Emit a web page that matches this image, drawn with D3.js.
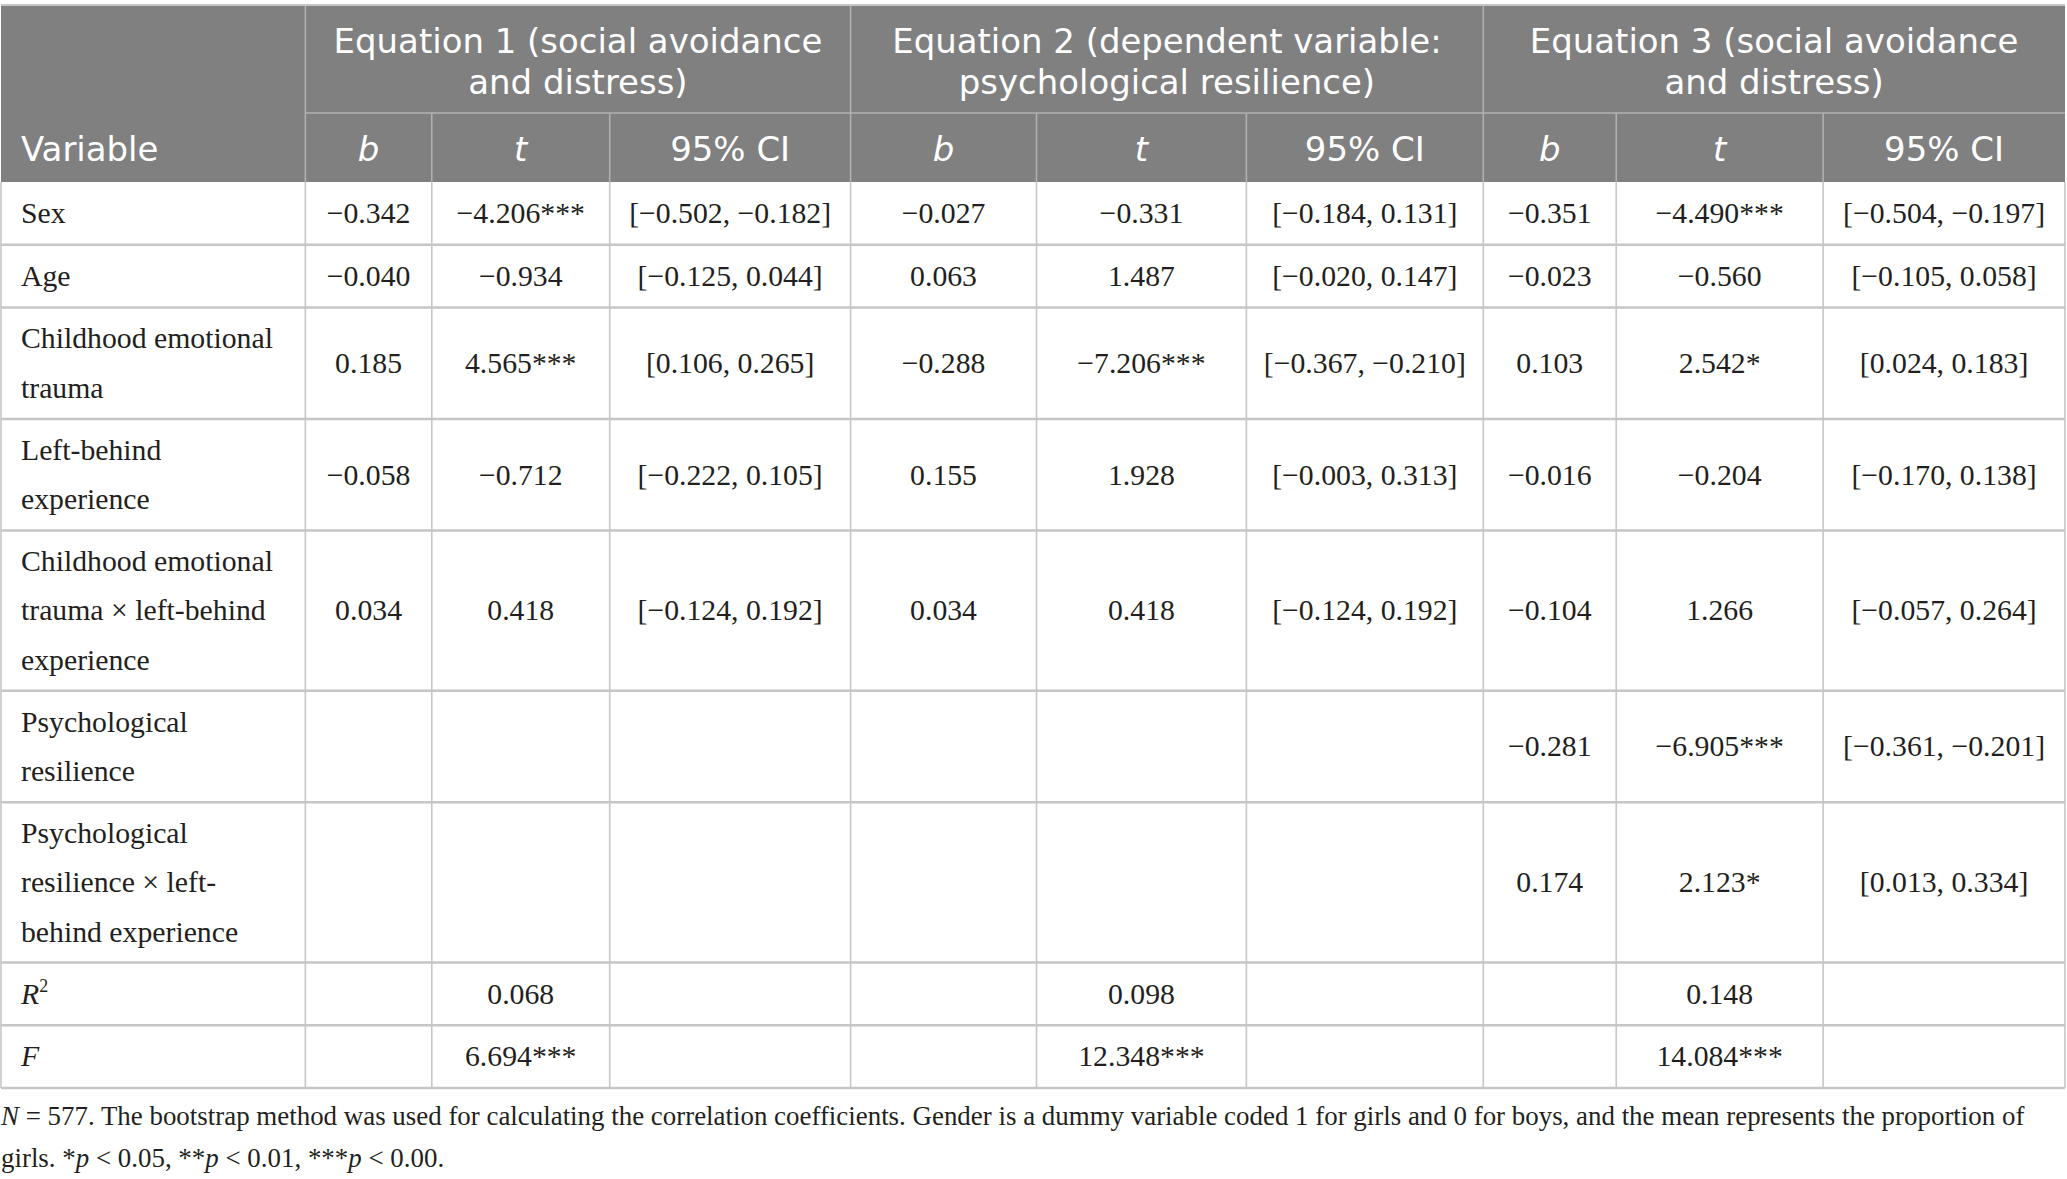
<!DOCTYPE html>
<html><head><meta charset="utf-8">
<script src="https://cdn.jsdelivr.net/npm/d3@7/dist/d3.min.js"></script>
<style>html,body{margin:0;padding:0;background:#fff;overflow:hidden}</style>
</head><body><svg id="c" width="2067" height="1179"></svg>
<script>
// ---------- data ----------
const groupTitles = [
  ["Equation 1 (social avoidance", "and distress)"],
  ["Equation 2 (dependent variable:", "psychological resilience)"],
  ["Equation 3 (social avoidance", "and distress)"]
];
const firstHeader = "Variable";
const subHeaders = ["b", "t", "95% CI"];
const variables = [
  ["Sex"],
  ["Age"],
  ["Childhood emotional", "trauma"],
  ["Left-behind", "experience"],
  ["Childhood emotional", "trauma \u00d7 left-behind", "experience"],
  ["Psychological", "resilience"],
  ["Psychological", "resilience \u00d7 left-", "behind experience"],
  ["R"],
  ["F"]
];
const italicVariables = ["R", "F"];
const eq1B  = ["\u22120.342", "\u22120.040", "0.185", "\u22120.058", "0.034", "", "", "", ""];
const eq1T  = ["\u22124.206***", "\u22120.934", "4.565***", "\u22120.712", "0.418", "", "", "0.068", "6.694***"];
const eq1CI = ["[\u22120.502, \u22120.182]", "[\u22120.125, 0.044]", "[0.106, 0.265]", "[\u22120.222, 0.105]", "[\u22120.124, 0.192]", "", "", "", ""];
const eq2B  = ["\u22120.027", "0.063", "\u22120.288", "0.155", "0.034", "", "", "", ""];
const eq2T  = ["\u22120.331", "1.487", "\u22127.206***", "1.928", "0.418", "", "", "0.098", "12.348***"];
const eq2CI = ["[\u22120.184, 0.131]", "[\u22120.020, 0.147]", "[\u22120.367, \u22120.210]", "[\u22120.003, 0.313]", "[\u22120.124, 0.192]", "", "", "", ""];
const eq3B  = ["\u22120.351", "\u22120.023", "0.103", "\u22120.016", "\u22120.104", "\u22120.281", "0.174", "", ""];
const eq3T  = ["\u22124.490***", "\u22120.560", "2.542*", "\u22120.204", "1.266", "\u22126.905***", "2.123*", "0.148", "14.084***"];
const eq3CI = ["[\u22120.504, \u22120.197]", "[\u22120.105, 0.058]", "[0.024, 0.183]", "[\u22120.170, 0.138]", "[\u22120.057, 0.264]", "[\u22120.361, \u22120.201]", "[0.013, 0.334]", "", ""];
const footnote1 = [["N", true], [" = 577. The bootstrap method was used for calculating the correlation coefficients. Gender is a dummy variable coded 1 for girls and 0 for boys, and the mean represents the proportion of", false]];
const footnote2 = [["girls. *", false], ["p", true], [" < 0.05, **", false], ["p", true], [" < 0.01, ***", false], ["p", true], [" < 0.00.", false]];

// ---------- layout ----------
const svg = d3.select("#c");
const serif = "'Liberation Serif','Times New Roman',serif";
const sans = "'DejaVu Sans','Open Sans',sans-serif";
const headFill = "#808080", headLine = "#b2b2b2", gridLine = "#c6c6c6", ink = "#231f20";

const colUnits = [304.5, 126.5, 178, 241, 186, 210, 237, 133, 207, 242];
const cum = [0]; colUnits.forEach(u => cum.push(cum[cum.length - 1] + u));
const x = d3.scaleLinear().domain([0, cum[cum.length - 1]]).range([1, 2065]);
const colX = cum.map(c => x(c));

const tableTop = 5, headSplit = 113, headBottom = 182, bodyBottom = 1088;
const rowUnits = variables.map(v => v.length + 0.287);
const rcum = [0]; rowUnits.forEach(u => rcum.push(rcum[rcum.length - 1] + u));
const y = d3.scaleLinear().domain([0, rcum[rcum.length - 1]]).range([headBottom, bodyBottom]);
const lineStep = 49.5;

function measure(text, family, size) {
  const t = svg.append("text").attr("font-family", family).attr("font-size", size).text(text);
  const w = t.node().getComputedTextLength(); t.remove();
  return w;
}
const bodySize = 100 * 252 / measure("Childhood emotional", serif, 100);
const headSize = Math.min(34, 100 * 489 / measure("Equation 1 (social avoidance", sans, 100));

// header background
svg.append("rect").attr("x", colX[0]).attr("y", tableTop).attr("width", colX[10] - colX[0])
  .attr("height", headBottom - tableTop).attr("fill", headFill);

// header lines
const hl = svg.append("g").attr("stroke", headLine).attr("stroke-width", 1.5);
hl.append("line").attr("x1", colX[1]).attr("x2", colX[10]).attr("y1", headSplit).attr("y2", headSplit);
[1, 4, 7].forEach(i => hl.append("line").attr("x1", colX[i]).attr("x2", colX[i]).attr("y1", tableTop).attr("y2", headBottom));
[2, 3, 5, 6, 8, 9].forEach(i => hl.append("line").attr("x1", colX[i]).attr("x2", colX[i]).attr("y1", headSplit).attr("y2", headBottom));
svg.append("line").attr("x1", colX[0]).attr("x2", colX[10]).attr("y1", tableTop).attr("y2", tableTop)
  .attr("stroke", gridLine).attr("stroke-width", 2);

// group titles
const gText = svg.append("g").attr("font-family", sans).attr("font-size", headSize)
  .attr("fill", "#fff").attr("text-anchor", "middle");
groupTitles.forEach((lines, gi) => {
  const cx = (colX[1 + gi * 3] + colX[4 + gi * 3]) / 2;
  lines.forEach((ln, li) => {
    gText.append("text").attr("x", cx).attr("y", 41 + li * 41 + headSize * 0.36).text(ln);
  });
});
// sub headers
gText.append("text").attr("x", 21).attr("y", 149 + headSize * 0.36).attr("text-anchor", "start").text(firstHeader);
for (let g = 0; g < 3; g++) {
  subHeaders.forEach((s, si) => {
    const ci = 1 + g * 3 + si;
    gText.append("text").attr("x", (colX[ci] + colX[ci + 1]) / 2).attr("y", 149 + headSize * 0.36)
      .attr("font-style", si < 2 ? "italic" : "normal").text(s);
  });
}

// body grid
const gl = svg.append("g").attr("stroke", gridLine);
rcum.forEach((r, i) => {
  if (i === 0) return;
  gl.append("line").attr("x1", colX[0]).attr("x2", colX[10]).attr("y1", y(r)).attr("y2", y(r)).attr("stroke-width", 2.5);
});
colX.forEach((cx) => {
  gl.append("line").attr("x1", cx).attr("x2", cx).attr("y1", headBottom).attr("y2", bodyBottom).attr("stroke-width", 1.6);
});

// body text
const body = svg.append("g").attr("font-family", serif).attr("font-size", bodySize).attr("fill", ink);
const rowCenter = i => (y(rcum[i]) + y(rcum[i + 1])) / 2;
const base = bodySize * 0.33;

variables.forEach((lines, i) => {
  const c = rowCenter(i);
  lines.forEach((ln, li) => {
    const t = body.append("text").attr("x", 21)
      .attr("y", c + (li - (lines.length - 1) / 2) * lineStep + base);
    if (italicVariables.includes(ln)) {
      t.append("tspan").attr("font-style", "italic").text(ln);
      if (ln === "R") t.append("tspan").attr("font-size", bodySize * 0.6).attr("dy", -bodySize * 0.38).text("2");
    } else t.text(ln);
  });
});

const columns = [eq1B, eq1T, eq1CI, eq2B, eq2T, eq2CI, eq3B, eq3T, eq3CI];
columns.forEach((col, ci) => {
  const cx = (colX[ci + 1] + colX[ci + 2]) / 2;
  body.selectAll(null).data(col.map((v, i) => ({ v, i })).filter(d => d.v !== ""))
    .enter().append("text")
    .attr("x", cx).attr("y", d => rowCenter(d.i) + base)
    .attr("text-anchor", "middle").text(d => d.v);
});

// footnote
const fnSize = (function () {
  const t = svg.append("text").attr("font-family", serif).attr("font-size", 100);
  footnote1.forEach(([s, it]) => t.append("tspan").attr("font-style", it ? "italic" : "normal").text(s));
  const w = t.node().getComputedTextLength(); t.remove();
  return 100 * 2025 / w;
})();
const fn = svg.append("g").attr("font-family", serif).attr("font-size", fnSize).attr("fill", ink);
[[footnote1, 1116], [footnote2, 1158]].forEach(([parts, cy]) => {
  const t = fn.append("text").attr("x", 1).attr("y", cy + fnSize * 0.33);
  parts.forEach(([s, it]) => t.append("tspan").attr("font-style", it ? "italic" : "normal").text(s));
});
</script>
</body></html>
